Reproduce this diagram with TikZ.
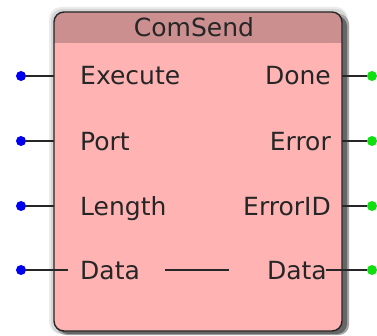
\documentclass[tikz,border=0pt]{standalone}
\usepackage{fontspec}
\setmainfont{DejaVu Sans}
\usetikzlibrary{calc}
\definecolor{bodyfill}{HTML}{FFB3B3}
\definecolor{headfill}{HTML}{CC8F8F}
\definecolor{inpin}{HTML}{0000F0}
\definecolor{outpin}{HTML}{10E010}
\begin{document}
\begin{tikzpicture}[x=1pt,y=1pt,
  lbl/.style={font=\fontsize{25}{27}\selectfont, inner sep=0pt, text=black!85},
  indot/.style={circle, fill=inpin, minimum size=10pt, inner sep=0pt},
  outdot/.style={circle, fill=outpin, minimum size=10pt, inner sep=0pt},
  pinline/.style={line width=1.2pt, black!85},
  fbbox/.style={rectangle, rounded corners=10pt, minimum width=288pt,
    minimum height=319pt, inner sep=0pt}]
\useasboundingbox (0,0) rectangle (377,335);

% soft halo and drop shadow of the block
\fill[black!8, rounded corners=12pt] (49,1) rectangle (348,328);
\fill[black!16, rounded corners=11pt] (51,1) rectangle (347,326);
\fill[black!35, rounded corners=10pt] (56,0) rectangle (349,321);
\fill[black!60, rounded corners=10pt] (58,1) rectangle (347,319);

% function block body
\node[fbbox, fill=bodyfill] (fb) at (198,163.5) {};
\begin{scope}
  \clip[rounded corners=10pt] (fb.south west) rectangle (fb.north east);
  \fill[headfill] (fb.north west) rectangle ($(fb.north east)+(0,-31)$);
\end{scope}
\node[fbbox, draw=black!85, line width=1.4pt] (fbframe) at (198,163.5) {};

% title
\node[lbl, anchor=base] (title) at (194,298) {ComSend};

% input labels
\node[lbl, anchor=base west] (iexec) at (80,250) {Execute};
\node[lbl, anchor=base west] (iport) at (80,185) {Port};
\node[lbl, anchor=base west] (ilen)  at (80,120) {Length};
\node[lbl, anchor=base west] (idata) at (80,56)  {Data};

% output labels
\node[lbl, anchor=base east] (odone) at (331,250) {Done};
\node[lbl, anchor=base east] (oerr)  at (331,185) {Error};
\node[lbl, anchor=base east] (oeid)  at (331,120) {ErrorID};
\node[lbl, anchor=base east] (odata) at (327,56)  {Data};

% pin dots
\node[indot] (pexec) at (21,259) {};
\node[indot] (pport) at (21,194) {};
\node[indot] (plen)  at (21,129) {};
\node[indot] (pdata) at (21,65)  {};
\node[outdot] (qdone) at (372,259) {};
\node[outdot] (qerr)  at (372,194) {};
\node[outdot] (qeid)  at (372,129) {};
\node[outdot] (qdata) at (372,65)  {};

% pin ends on the block
\coordinate (lexec) at (fb.west |- pexec);
\coordinate (lport) at (fb.west |- pport);
\coordinate (llen)  at (fb.west |- plen);
\coordinate (ldata) at (68,65);
\coordinate (rdone) at (fb.east |- qdone);
\coordinate (rerr)  at (fb.east |- qerr);
\coordinate (reid)  at (fb.east |- qeid);
\coordinate (rdata) at (326,65);
\coordinate (passA) at (165,65);
\coordinate (passB) at (229,65);

\draw[pinline] (pexec) -- (lexec);
\draw[pinline] (pport) -- (lport);
\draw[pinline] (plen)  -- (llen);
\draw[pinline] (pdata) -- (ldata);
\draw[pinline] (rdone) -- (qdone);
\draw[pinline] (rerr)  -- (qerr);
\draw[pinline] (reid)  -- (qeid);
\draw[pinline] (rdata) -- (qdata);
\draw[pinline] (passA) -- (passB);
\end{tikzpicture}
\end{document}
